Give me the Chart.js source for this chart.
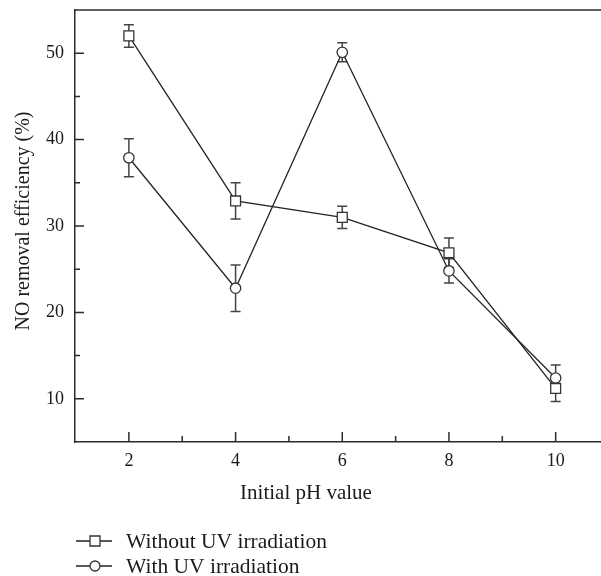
<!DOCTYPE html>
<html>
<head>
<meta charset="utf-8">
<script src="https://cdn.jsdelivr.net/npm/chart.js@4/dist/chart.umd.min.js"></script>
<style>
  html, body { margin: 0; padding: 0; background: #fff; overflow: hidden; }
  #wrap { width: 601px; height: 576px; position: relative; }
  #phChart { display: block; }
</style>
</head>
<body>
<div id="wrap"><canvas id="phChart"></canvas></div>
<script>
// NO removal vs initial pH, with and without UV
var phValues = [2, 4, 6, 8, 10];
var withoutUV = [52.0, 32.9, 31.0, 26.9, 11.2];
var withoutUVErr = [1.3, 2.1, 1.3, 1.7, 1.5];
var withUV = [37.9, 22.8, 50.1, 24.8, 12.4];
var withUVErr = [2.2, 2.7, 1.1, 1.4, 1.5];

var xTicks = [2, 4, 6, 8, 10];
var xMinor = [3, 5, 7, 9];
var yTicks = [10, 20, 30, 40, 50];
var yMinor = [15, 25, 35, 45];

var seriesLabels = ['Without UV irradiation', 'With UV irradiation'];
var xTitle = 'Initial pH value';
var yTitle = 'NO removal efficiency (%)';

var FONT = '"Liberation Serif", "Times New Roman", serif';
var INK = '#2b2b2b';

function points(vals){
  return phValues.map(function(x, i){ return {x: x, y: vals[i]}; });
}

var errors = [withoutUVErr, withUVErr];
var values = [withoutUV, withUV];

// error bars, inward ticks, frame top, axis titles and legend
var decor = {
  id: 'decor',
  beforeDatasetsDraw: function(chart){
    var ctx = chart.ctx, xs = chart.scales.x, ys = chart.scales.y;
    ctx.save();
    ctx.strokeStyle = '#444';
    ctx.lineWidth = 1.5;
    values.forEach(function(vals, d){
      vals.forEach(function(v, i){
        var x = xs.getPixelForValue(phValues[i]);
        var t = ys.getPixelForValue(v + errors[d][i]);
        var b = ys.getPixelForValue(v - errors[d][i]);
        ctx.beginPath();
        ctx.moveTo(x, t); ctx.lineTo(x, b);
        ctx.moveTo(x - 5, t); ctx.lineTo(x + 5, t);
        ctx.moveTo(x - 5, b); ctx.lineTo(x + 5, b);
        ctx.stroke();
      });
    });
    ctx.restore();
  },
  afterDraw: function(chart){
    var ctx = chart.ctx, xs = chart.scales.x, ys = chart.scales.y;
    var a = chart.chartArea;
    ctx.save();
    ctx.strokeStyle = INK;
    ctx.lineWidth = 1.5;
    ctx.beginPath();
    // top edge of the frame
    ctx.moveTo(a.left, a.top); ctx.lineTo(a.right, a.top);
    yTicks.forEach(function(v){ var y = ys.getPixelForValue(v); ctx.moveTo(a.left, y); ctx.lineTo(a.left + 9, y); });
    yMinor.forEach(function(v){ var y = ys.getPixelForValue(v); ctx.moveTo(a.left, y); ctx.lineTo(a.left + 5, y); });
    xTicks.forEach(function(v){ var x = xs.getPixelForValue(v); ctx.moveTo(x, a.bottom); ctx.lineTo(x, a.bottom - 10); });
    xMinor.forEach(function(v){ var x = xs.getPixelForValue(v); ctx.moveTo(x, a.bottom); ctx.lineTo(x, a.bottom - 6); });
    ctx.stroke();

    ctx.fillStyle = '#1a1a1a';
    ctx.font = '21px ' + FONT;
    ctx.textBaseline = 'middle';
    ctx.textAlign = 'center';
    ctx.fillText(xTitle, 306, 493);

    ctx.save();
    ctx.font = '20px ' + FONT;
    ctx.translate(24, 221);
    ctx.rotate(-Math.PI / 2);
    ctx.fillText(yTitle, 0, 0);
    ctx.restore();

    // legend: line with marker, then label
    ctx.textAlign = 'left';
    ctx.font = '21.5px ' + FONT;
    var rows = [541, 566];
    chart.data.datasets.forEach(function(ds, d){
      var y = rows[d];
      ctx.strokeStyle = '#222';
      ctx.lineWidth = 1.3;
      ctx.beginPath();
      ctx.moveTo(76, y); ctx.lineTo(112, y);
      ctx.stroke();
      ctx.fillStyle = '#fff';
      ctx.strokeStyle = '#333';
      ctx.beginPath();
      if (ds.pointStyle === 'rect') ctx.rect(90, y - 5, 10, 10);
      else ctx.arc(95, y, 5, 0, Math.PI * 2);
      ctx.fill();
      ctx.stroke();
      ctx.fillStyle = '#1a1a1a';
      ctx.fillText(ds.label, 126, y + 1);
    });
    ctx.restore();
  }
};

var ctx = document.getElementById('phChart');
new Chart(ctx.getContext('2d'), {
  type: 'line',
  data: {
    datasets: [
      {label: seriesLabels[0], data: points(withoutUV), pointStyle: 'rect', pointRadius: 7},
      {label: seriesLabels[1], data: points(withUV), pointStyle: 'circle', pointRadius: 5.2}
    ].map(function(ds){
      ds.borderColor = '#222';
      ds.borderWidth = 1.3;
      ds.pointBackgroundColor = '#fff';
      ds.pointBorderColor = '#333';
      ds.pointBorderWidth = 1.3;
      ds.fill = false;
      ds.tension = 0;
      return ds;
    })
  },
  options: {
    responsive: true,
    maintainAspectRatio: false,
    animation: false,
    events: [],
    layout: {autoPadding: false, padding: {left: 0, top: 10, right: 0, bottom: 74}},
    plugins: {legend: {display: false}, tooltip: {enabled: false}},
    scales: {
      x: {
        type: 'linear', min: 0.99, max: 10.85,
        grid: {display: false, drawTicks: false},
        border: {display: true, color: INK, width: 1.5},
        ticks: {color: '#1a1a1a', padding: 8, font: {family: FONT, size: 18}},
        afterBuildTicks: function(s){ s.ticks = xTicks.map(function(v){ return {value: v}; }); },
        afterFit: function(s){ s.height = 60; s.paddingLeft = 0; s.paddingRight = 0; }
      },
      y: {
        type: 'linear', min: 5, max: 55,
        grid: {display: false, drawTicks: false},
        border: {display: true, color: INK, width: 1.5},
        ticks: {color: '#1a1a1a', padding: 11, font: {family: FONT, size: 18}},
        afterBuildTicks: function(s){ s.ticks = yTicks.map(function(v){ return {value: v}; }); },
        afterFit: function(s){ s.width = 75; s.paddingTop = 0; s.paddingBottom = 0; }
      }
    }
  },
  plugins: [decor]
});
</script>
</body>
</html>
